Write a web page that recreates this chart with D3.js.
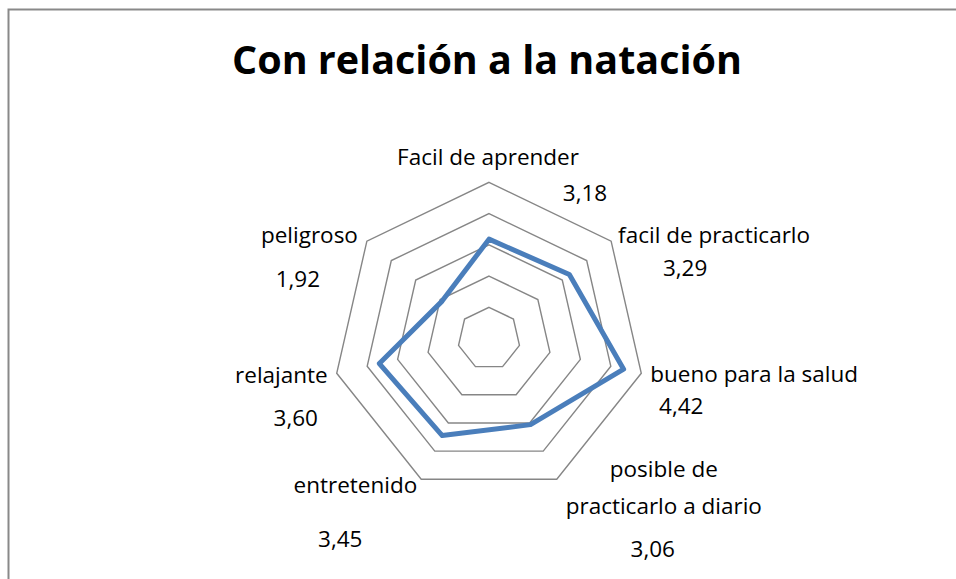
<!DOCTYPE html>
<html>
<head>
<meta charset="utf-8">
<script src="https://cdn.jsdelivr.net/npm/d3@7"></script>
<style>
  body { margin: 0; background: #fff; }
  text { font-family: "Open Sans", "Noto Sans", sans-serif; fill: #000; }
</style>
</head>
<body>
<svg id="radar" width="956" height="579"></svg>
<script>
// data
var categories = ["Facil de aprender", "facil de practicarlo", "bueno para la salud",
                  "posible de\npracticarlo a diario", "entretenido", "relajante", "peligroso"];
var values = [3.18, 3.29, 4.42, 3.06, 3.45, 3.60, 1.92];
var rings = [1, 2, 3, 4, 5];

// label placement relative to the outer vertex of each axis
var catOffset = [[-1, -17, "middle"], [7, 2, "start"], [9, 9, "start"], [107, -2, "middle"],
                 [-4, 14, "end"], [-9, 10, "end"], [-9, 2, "end"]];
var valOffset = [[96, 19], [74, 35], [40, 41], [96, 78], [-81, 68], [-41, 53], [-69, 46]];

var svg = d3.select("svg#radar");
var width = +svg.attr("width"), height = +svg.attr("height");

var cx = 489, cy = 338.5;
var r = d3.scaleLinear().domain([0, 5]).range([0, 156.2]);
var angle = d3.scalePoint().domain(d3.range(categories.length))
              .range([0, 2 * Math.PI * (categories.length - 1) / categories.length]);

// chart border (runs past right and bottom edge)
svg.append("rect")
   .attr("x", 8.5).attr("y", 9.5)
   .attr("width", width + 10).attr("height", height + 10)
   .attr("fill", "none")
   .attr("stroke", "#898989")
   .attr("stroke-width", 2);

// title
svg.append("text")
   .attr("x", 487).attr("y", 73.5)
   .attr("text-anchor", "middle")
   .style("font-size", "39.5px")
   .style("font-weight", "bold")
   .text("Con relación a la natación");

var g = svg.append("g").attr("transform", "translate(" + cx + "," + cy + ")");

var radial = d3.lineRadial()
               .angle(function(d, i) { return angle(i); })
               .curve(d3.curveLinearClosed);

// grid rings
g.selectAll("path.ring")
 .data(rings)
 .enter().append("path")
 .attr("class", "ring")
 .attr("d", function(v) { return radial.radius(r(v))(categories); })
 .attr("fill", "none")
 .attr("stroke", "#868686")
 .attr("stroke-width", 1.4);

// series
g.append("path")
 .datum(values)
 .attr("d", radial.radius(function(d) { return r(d); }))
 .attr("fill", "none")
 .attr("stroke", "#4a7ebb")
 .attr("stroke-width", 5)
 .attr("stroke-linejoin", "round");

function vertex(i) {
  var a = angle(i);
  return [r(5) * Math.sin(a), -r(5) * Math.cos(a)];
}

// category labels
categories.forEach(function(c, i) {
  var p = vertex(i), o = catOffset[i];
  var t = g.append("text")
           .attr("text-anchor", o[2])
           .style("font-size", "22.5px");
  c.split("\n").forEach(function(l, j) {
    t.append("tspan")
     .attr("x", p[0] + o[0])
     .attr("y", p[1] + o[1] + j * 37)
     .text(l);
  });
});

// value labels
var fmt = function(v) { return d3.format(".2f")(v).replace(".", ","); };
values.forEach(function(v, i) {
  var p = vertex(i), o = valOffset[i];
  g.append("text")
   .attr("x", p[0] + o[0])
   .attr("y", p[1] + o[1])
   .attr("text-anchor", "middle")
   .style("font-size", "22.5px")
   .text(fmt(v));
});
</script>
</body>
</html>
